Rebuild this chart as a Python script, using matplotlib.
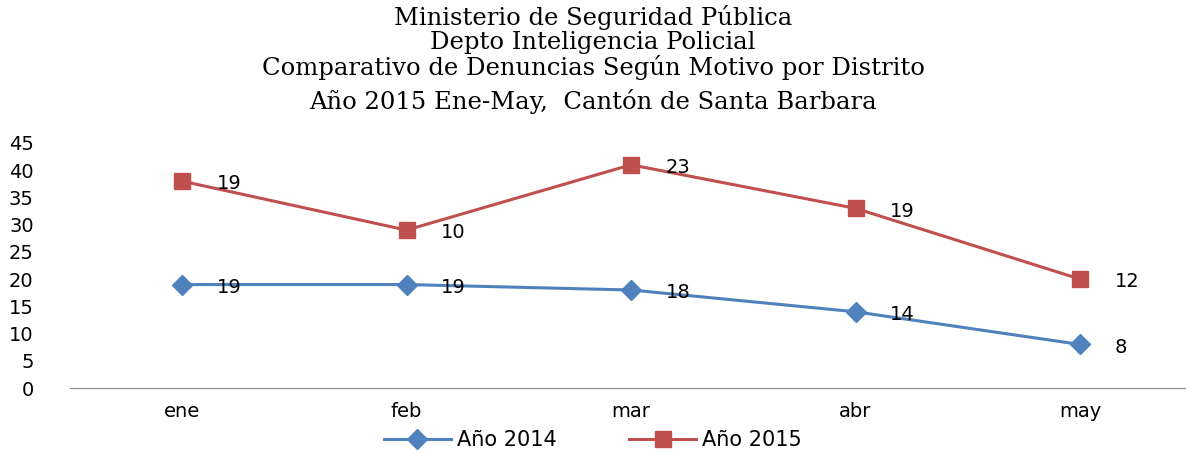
import matplotlib.pyplot as plt

meses = ['ene', 'feb', 'mar', 'abr', 'may']
anio_2014 = [19, 19, 18, 14, 8]
anio_2015 = [19, 10, 23, 19, 12]

titulos = ['Ministerio de Seguridad Pública',
           'Depto Inteligencia Policial',
           'Comparativo de Denuncias Según Motivo por Distrito',
           'Año 2015 Ene-May,  Cantón de Santa Barbara']
alturas_titulo = [17, 42, 67, 102]  # pixeles desde arriba

azul = '#4F81BD'
rojo = '#C0504D'

# lineas apiladas (como en excel): 2015 se dibuja encima de 2014
apilado_2015 = [a + b for a, b in zip(anio_2014, anio_2015)]

fig = plt.figure(figsize=(11.86, 4.53), dpi=100)
ax = fig.add_axes([69.75 / 1186, 65 / 453, 1122.5 / 1186, 245 / 453])

x = list(range(len(meses)))
ax.plot(x, anio_2014, color=azul, lw=2.2, marker='D', ms=10,
        label='Año 2014', clip_on=False)
ax.plot(x, apilado_2015, color=rojo, lw=2.2, marker='s', ms=12,
        label='Año 2015', clip_on=False)

for i in x:
    ax.annotate(str(anio_2014[i]), (i, anio_2014[i]), xytext=(25, -2),
                textcoords='offset points', ha='left', va='center',
                fontsize=14)
    ax.annotate(str(anio_2015[i]), (i, apilado_2015[i]), xytext=(25, -2),
                textcoords='offset points', ha='left', va='center',
                fontsize=14)

ax.set_xlim(-0.5, 4.5)
ax.set_ylim(0, 45)
ax.set_yticks(range(0, 46, 5))
ax.set_xticks(x)
ax.set_xticklabels(meses)
ax.tick_params(axis='both', length=0, labelsize=14)
ax.tick_params(axis='y', pad=26)
ax.tick_params(axis='x', pad=10)
for lado in ['top', 'right', 'left']:
    ax.spines[lado].set_visible(False)
ax.spines['bottom'].set_color('#888888')

for texto, alto in zip(titulos, alturas_titulo):
    fig.text(0.5, 1 - alto / 453, texto, ha='center', va='center',
             fontsize=17.5, family='DejaVu Serif')

fig.legend(loc='lower center', bbox_to_anchor=(0.5, -0.035), ncol=2,
           frameon=False, fontsize=15, handlelength=3.2, handletextpad=0.3,
           columnspacing=3.5)

fig.savefig('out.png', dpi=100)
